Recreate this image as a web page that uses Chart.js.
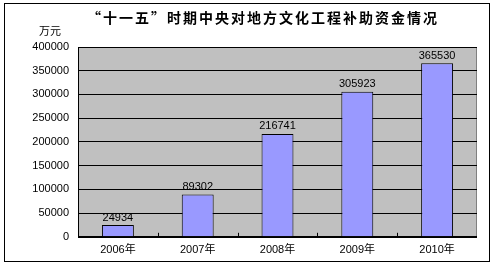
<!DOCTYPE html>
<html>
<head>
<meta charset="utf-8">
<script src="https://cdn.jsdelivr.net/npm/chart.js@4/dist/chart.umd.min.js"></script>
<style>
  html, body { margin: 0; padding: 0; background: #fff; }
  #wrap { width: 495px; height: 267px; }
</style>
</head>
<body>
<div id="wrap"><canvas id="funds-chart" width="495" height="267"></canvas></div>
<script>
const titleText = '“十一五”时期中央对地方文化工程补助资金情况';
const unitText = '万元';
const years = ['2006年', '2007年', '2008年', '2009年', '2010年'];
const funds = [24934, 89302, 216741, 305923, 365530];
const yMax = 400000;
const yStep = 50000;

const fontFamily = '"Liberation Sans", "Noto Sans CJK SC", sans-serif';

// frame, grey plot area, title, unit label, value labels, inner x ticks
const decorPlugin = {
  id: 'decor',
  beforeDraw(chart) {
    const ctx = chart.ctx;
    const a = chart.chartArea;
    ctx.save();
    ctx.fillStyle = '#fff';
    ctx.fillRect(0, 0, chart.width, chart.height);
    ctx.strokeStyle = '#000';
    ctx.lineWidth = 1;
    ctx.strokeRect(4.5, 3.5, 485, 258);
    ctx.fillStyle = '#c0c0c0';
    ctx.fillRect(a.left, a.top, a.right - a.left, a.bottom - a.top);
    ctx.strokeStyle = '#808080';
    ctx.beginPath();
    ctx.moveTo(a.left, a.top + 0.5);
    ctx.lineTo(a.right - 0.5, a.top + 0.5);
    ctx.lineTo(a.right - 0.5, a.bottom);
    ctx.stroke();

    ctx.fillStyle = '#000';
    ctx.font = 'bold 14px "Noto Sans CJK SC", sans-serif';
    ctx.letterSpacing = '2px';
    ctx.textAlign = 'center';
    ctx.textBaseline = 'middle';
    ctx.fillText(titleText, 263, 18);
    ctx.restore();
  },
  afterDatasetsDraw(chart) {
    const ctx = chart.ctx;
    const a = chart.chartArea;
    const x = chart.scales.x;
    ctx.save();
    // axes
    ctx.strokeStyle = '#000';
    ctx.lineWidth = 1;
    ctx.beginPath();
    ctx.moveTo(Math.round(a.left) + 0.5, a.top);
    ctx.lineTo(Math.round(a.left) + 0.5, a.bottom);
    ctx.moveTo(a.left, Math.round(a.bottom) + 0.5);
    ctx.lineTo(a.right, Math.round(a.bottom) + 0.5);
    for (let i = 1; i < years.length; i++) {
      const px = Math.round((x.getPixelForValue(i - 1) + x.getPixelForValue(i)) / 2) + 0.5;
      ctx.moveTo(px, a.bottom);
      ctx.lineTo(px, a.bottom - 4);
    }
    ctx.stroke();

    ctx.fillStyle = '#000';
    ctx.font = '11px ' + fontFamily;
    ctx.textAlign = 'center';
    ctx.textBaseline = 'bottom';
    const meta = chart.getDatasetMeta(0);
    meta.data.forEach((bar, i) => {
      ctx.fillText(String(funds[i]), bar.x, bar.y - 2);
    });

    ctx.textBaseline = 'middle';
    ctx.fillText(unitText, 50, 32);
    ctx.restore();
  }
};

new Chart(document.getElementById('funds-chart'), {
  type: 'bar',
  data: {
    labels: years,
    datasets: [{
      data: funds,
      backgroundColor: '#9999ff',
      borderColor: '#000',
      borderWidth: 1,
      categoryPercentage: 1,
      barPercentage: 0.4
    }]
  },
  options: {
    responsive: false,
    animation: false,
    devicePixelRatio: 1,
    layout: { padding: { left: 0, right: 18, top: 47, bottom: 3 } },
    plugins: {
      legend: { display: false },
      tooltip: { enabled: false },
      title: { display: false }
    },
    scales: {
      x: {
        grid: { display: false, drawTicks: false },
        border: { display: false },
        ticks: { color: '#000', padding: 7, font: { family: fontFamily, size: 11 } }
      },
      y: {
        min: 0,
        max: yMax,
        afterFit(scale) { scale.width = 78; },
        grid: { color: '#000', drawTicks: false },
        border: { display: false },
        ticks: {
          stepSize: yStep,
          color: '#000',
          padding: 9,
          font: { family: fontFamily, size: 11 },
          callback: (v) => String(v)
        }
      }
    }
  },
  plugins: [decorPlugin]
});
</script>
</body>
</html>
